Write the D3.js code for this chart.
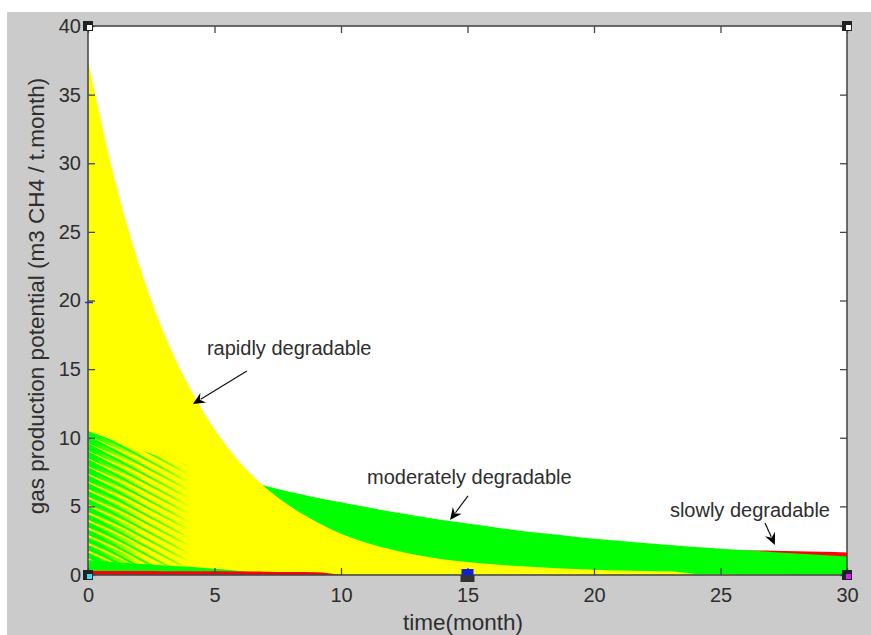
<!DOCTYPE html>
<html><head><meta charset="utf-8">
<script src="https://cdn.jsdelivr.net/npm/d3@7"></script>
<style>html,body{margin:0;padding:0;background:#fff;} svg{display:block;}</style>
</head><body><svg id="c" width="871" height="635"></svg>
<script>
// ---------- data ----------
const months = [0,1,2,3,4,5,6,7,8,9,10,11,12,13,14,15,16,17,18,19,20,21,22,23,24,25,26,27,28,29,30];
const rapid = [37.5,29.2,22.7,17.6,13.7,10.6,8.2,6.4,5.0,3.9,3.0,2.35,1.85,1.45,1.15,0.95,0.78,0.65,0.55,0.45,0.38,0.33,0.3,0.27,0.08,0.05,0.04,0.03,0.02,0.02,0.01];
const moderate = [10.5,9.8,9.15,8.55,8.0,7.45,6.95,6.5,6.05,5.65,5.3,4.95,4.6,4.3,4.0,3.75,3.5,3.25,3.05,2.85,2.65,2.5,2.33,2.18,2.04,1.92,1.80,1.68,1.56,1.45,1.35];
const slow = [2.05,2.04,2.03,2.02,2.01,2.0,1.99,1.98,1.97,1.96,1.95,1.94,1.93,1.92,1.91,1.9,1.89,1.88,1.87,1.86,1.85,1.84,1.84,1.83,1.83,1.82,1.79,1.77,1.73,1.69,1.64];
const baseMonths = [0,1,2,3,4,5,6,7,8,9,10];
const moderateBase = [1.1,0.95,0.82,0.7,0.6,0.45,0.3,0.15,0,0,0];
const slowBase = [0.3,0.3,0.29,0.28,0.28,0.27,0.26,0.24,0.22,0.2,0];
const xTicks = [0,5,10,15,20,25,30];
const yTicks = [0,5,10,15,20,25,30,35,40];
const labels = ["rapidly degradable","moderately degradable","slowly degradable"];
const xLabel = "time(month)";
const yLabel = "gas production potential (m3 CH4 / t.month)";

// ---------- layout ----------
const svg = d3.select("#c");
const L = 88, R = 847, T = 26, B = 575;
const x = d3.scaleLinear().domain([0,30]).range([L,R]);
const y = d3.scaleLinear().domain([0,40]).range([B,T]);
const font = "'Liberation Sans', Arial, sans-serif";
const txt = "#2e2e2e";

svg.append("rect").attr("x",7).attr("y",12).attr("width",864).attr("height",623).attr("fill","#cbcbcb");
svg.append("rect").attr("x",L).attr("y",T).attr("width",R-L).attr("height",B-T).attr("fill","#fff");

const defs = svg.append("defs");
defs.append("clipPath").attr("id","clip").append("rect").attr("x",L).attr("y",T).attr("width",R-L).attr("height",B-T);
function stripes(id, period, w, rot){
  const p = defs.append("pattern").attr("id",id).attr("patternUnits","userSpaceOnUse")
    .attr("width",period).attr("height",period).attr("patternTransform",`rotate(${rot})`);
  p.append("rect").attr("x",0).attr("y",0).attr("width",period).attr("height",w).attr("fill","#00ff00");
}
stripes("thick",7,5,24);
stripes("thin",7,2,28);
function fadeMask(id, stops){
  const g = defs.append("linearGradient").attr("id",id+"g").attr("gradientUnits","userSpaceOnUse")
    .attr("x1",x(0)).attr("x2",x(4)).attr("y1",0).attr("y2",0);
  stops.forEach(s=>g.append("stop").attr("offset",s[0]).attr("stop-color","#fff").attr("stop-opacity",s[1]));
  defs.append("mask").attr("id",id).attr("maskUnits","userSpaceOnUse")
    .attr("x",0).attr("y",0).attr("width",871).attr("height",635)
    .append("rect").attr("x",0).attr("y",0).attr("width",871).attr("height",635).attr("fill","url(#"+id+"g)");
}
fadeMask("mThick",[[0,1],[0.05,1],[0.4,0.3],[0.55,0]]);
fadeMask("mThin",[[0,1],[0.55,0.85],[0.85,0.45],[1,0]]);

const plot = svg.append("g").attr("clip-path","url(#clip)");
const area = (xs, vs) => d3.area().curve(d3.curveMonotoneX)
  .x((d,i)=>x(xs[i])).y0(y(0)).y1(d=>y(d))(vs);

plot.append("path").attr("d",area(months,slow)).attr("fill","#ff0000");
plot.append("path").attr("d",area(months,moderate)).attr("fill","#00ff00");
plot.append("path").attr("d",area(months,rapid)).attr("fill","#ffff00");
// green showing through the yellow near the origin
plot.append("path").attr("d",area(months,moderate)).attr("fill","url(#thick)").attr("mask","url(#mThick)");
plot.append("path").attr("d",area(months,moderate)).attr("fill","url(#thin)").attr("mask","url(#mThin)");
plot.append("path").attr("d",area(baseMonths,moderateBase)).attr("fill","#00ff00");
plot.append("path").attr("d",area(baseMonths,slowBase)).attr("fill","#ff0000");

// ---------- axes ----------
const tickCol = "#454545";
function styleAxis(g){
  g.select(".domain").remove();
  g.selectAll(".tick line").attr("stroke",tickCol).attr("stroke-width",1.3);
  g.selectAll(".tick text").attr("fill",txt).style("font-family",font).style("font-size","20px");
}
svg.append("g").attr("transform",`translate(0,${B})`)
  .call(d3.axisBottom(x).tickValues(xTicks).tickSizeInner(-7).tickSizeOuter(0).tickPadding(12.8))
  .call(styleAxis);
svg.append("g").attr("transform",`translate(0,${T})`)
  .call(d3.axisTop(x).tickValues(xTicks).tickSizeInner(-7).tickSizeOuter(0).tickFormat(""))
  .call(styleAxis);
svg.append("g").attr("transform",`translate(${L},0)`)
  .call(d3.axisLeft(y).tickValues(yTicks).tickSizeInner(-7).tickSizeOuter(0).tickPadding(7))
  .call(styleAxis);
svg.append("g").attr("transform",`translate(${R},0)`)
  .call(d3.axisRight(y).tickValues(yTicks).tickSizeInner(-7).tickSizeOuter(0).tickFormat(""))
  .call(styleAxis);
svg.append("rect").attr("x",L).attr("y",T).attr("width",R-L).attr("height",B-T)
  .attr("fill","none").attr("stroke","#4a4a4a").attr("stroke-width",1.6);
// blue tick at 20
svg.append("line").attr("x1",L-3).attr("x2",L+5).attr("y1",y(20)+2).attr("y2",y(20)+2).attr("stroke","#2030d0").attr("stroke-width",1.5);

// selection handles
function handle(cx, cy, inner){
  svg.append("rect").attr("x",cx-5).attr("y",cy-5).attr("width",10).attr("height",10).attr("fill","#222");
  svg.append("rect").attr("x",cx-1).attr("y",cy-1).attr("width",5).attr("height",5).attr("fill",inner);
}
handle(x(0),y(40),"#fff");
handle(x(30),y(40),"#fff");
handle(x(0),y(0),"#33e0ff");
handle(x(30),y(0),"#d020ff");
svg.append("rect").attr("x",x(15)-7).attr("y",y(0)).attr("width",14).attr("height",7).attr("fill","#333");
svg.append("rect").attr("x",x(15)-6).attr("y",y(0)-6).attr("width",12).attr("height",6).attr("fill","#1020e0");

// axis labels
svg.append("text").attr("x",463).attr("y",630).attr("text-anchor","middle")
  .style("font-family",font).style("font-size","22.5px").attr("fill",txt).text(xLabel);
svg.append("text").attr("transform","translate(44,296) rotate(-90)").attr("text-anchor","middle")
  .style("font-family",font).style("font-size","22.5px").attr("fill",txt).text(yLabel);

// annotations (text anchor and arrow in data units)
const notes = [
  {t:4.70, v:16.03, a:[6.28,14.86], b:[4.15,12.46]},
  {t:11.03, v:6.63, a:[15.02,5.76], b:[14.31,4.01]},
  {t:23.0, v:4.23, a:[26.76,3.79], b:[27.15,2.19]}
];
notes.forEach((n,i)=>{
  svg.append("text").attr("x",x(n.t)).attr("y",y(n.v)).style("font-family",font).style("font-size","20px")
    .attr("fill",txt).text(labels[i]);
  const x1=x(n.a[0]), y1=y(n.a[1]), x2=x(n.b[0]), y2=y(n.b[1]);
  const ang = Math.atan2(y2-y1, x2-x1), len=12, hw=5.5;
  const ux=Math.cos(ang), uy=Math.sin(ang), px=-uy, py=ux;
  const bx=x2-ux*len, by=y2-uy*len;
  svg.append("line").attr("x1",x1).attr("y1",y1).attr("x2",bx+ux*3).attr("y2",by+uy*3).attr("stroke","#111").attr("stroke-width",1.2);
  svg.append("path").attr("d",`M${x2},${y2}L${bx+px*hw},${by+py*hw}L${bx+ux*4},${by+uy*4}L${bx-px*hw},${by-py*hw}Z`).attr("fill","#000");
});
</script></body></html>
